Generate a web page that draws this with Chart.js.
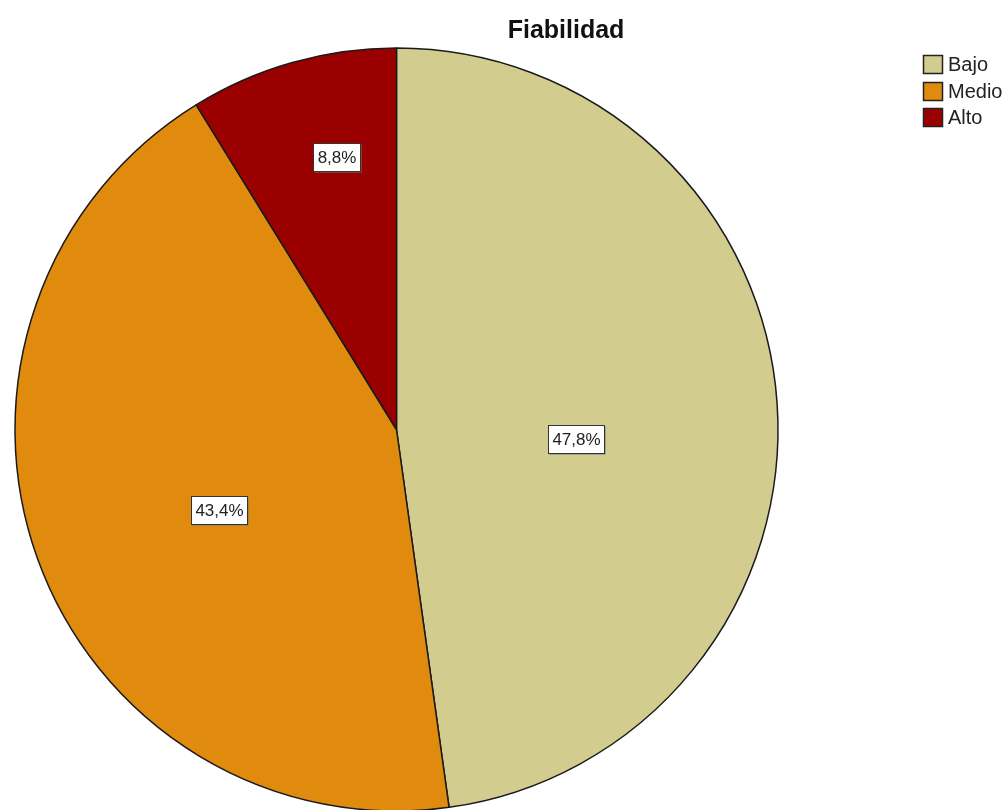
<!DOCTYPE html>
<html>
<head>
<meta charset="utf-8">
<title>Fiabilidad</title>
<script src="https://cdn.jsdelivr.net/npm/chart.js@4"></script>
<style>
  html, body { margin: 0; padding: 0; background: #fff; }
  #wrap { width: 1008px; height: 810px; position: relative; }
</style>
</head>
<body>
<div id="wrap"><canvas id="piechart"></canvas></div>
<script>
// niveles y porcentajes
const groups = ['Bajo', 'Medio', 'Alto'];
const values = [47.8, 43.4, 8.8];
const colors = ['#D2CC8E', '#E08A0E', '#9B0000'];

// where each percentage box sits inside its slice (fraction of radius, degrees of shift)
const labelRadius = [0.47, 0.51, 0.73];
const labelShift = [7, -4.5, 3.5];

const fmt = v => v.toFixed(1).replace('.', ',') + '%';

/* title, legend and value boxes */
const decorations = {
  id: 'decorations',
  afterDatasetsDraw(chart) {
    const ctx = chart.ctx;
    const meta = chart.getDatasetMeta(0);

    ctx.save();
    ctx.font = '17px "Liberation Sans", Arial, sans-serif';
    ctx.textAlign = 'center';
    ctx.textBaseline = 'middle';
    meta.data.forEach((arc, i) => {
      const p = arc.getProps(['x', 'y', 'startAngle', 'endAngle', 'outerRadius'], true);
      const mid = (p.startAngle + p.endAngle) / 2 + labelShift[i] * Math.PI / 180;
      const r = p.outerRadius * labelRadius[i];
      const cx = p.x + Math.cos(mid) * r;
      const cy = p.y + Math.sin(mid) * r;
      const txt = fmt(values[i]);
      const w = Math.round(ctx.measureText(txt).width) + 8;
      const h = 28;
      const bx = Math.round(cx - w / 2) + 0.5;
      const by = Math.round(cy - h / 2) + 0.5;
      ctx.fillStyle = '#777';
      ctx.fillRect(bx + 1, by + 1, w, h);
      ctx.fillStyle = '#fff';
      ctx.fillRect(bx, by, w, h);
      ctx.strokeStyle = '#333';
      ctx.lineWidth = 1;
      ctx.strokeRect(bx, by, w, h);
      ctx.fillStyle = '#222';
      ctx.fillText(txt, bx + w / 2, by + h / 2 + 1);
    });
    ctx.restore();

    // title
    ctx.save();
    ctx.font = 'bold 25px "Liberation Sans", Arial, sans-serif';
    ctx.fillStyle = '#111';
    ctx.textAlign = 'center';
    ctx.textBaseline = 'alphabetic';
    ctx.fillText('Fiabilidad', 566, 38);
    ctx.restore();

    // legend
    ctx.save();
    ctx.font = '20px "Liberation Sans", Arial, sans-serif';
    ctx.textBaseline = 'middle';
    ctx.textAlign = 'left';
    groups.forEach((g, i) => {
      const y = Math.round(55 + i * 26.5);
      ctx.fillStyle = colors[i];
      ctx.fillRect(923, y, 20, 19);
      ctx.strokeStyle = '#222';
      ctx.lineWidth = 1.5;
      ctx.strokeRect(923.5, y + 0.5, 19, 18);
      ctx.fillStyle = '#222';
      ctx.fillText(g, 948, y + 10);
    });
    ctx.restore();
  }
};

document.addEventListener('DOMContentLoaded', function() {
  const canvas = document.getElementById('piechart');

  new Chart(canvas, {
    type: 'pie',
    data: {
      labels: groups,
      datasets: [{
        data: values,
        backgroundColor: colors,
        borderColor: '#1a1a1a',
        borderWidth: 1.5,
        clip: false
      }]
    },
    options: {
      responsive: true,
      maintainAspectRatio: false,
      animation: false,
      radius: 381.5,
      layout: { padding: { left: 15, right: 230, top: 49, bottom: 0 } },
      plugins: {
        legend: { display: false },
        title: { display: false },
        tooltip: { enabled: false }
      }
    },
    plugins: [decorations]
  });
});
</script>
</body>
</html>
